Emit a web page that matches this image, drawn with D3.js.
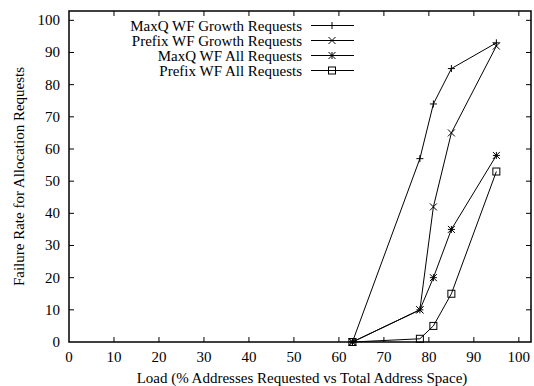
<!DOCTYPE html>
<html>
<head>
<meta charset="utf-8">
<script src="https://cdn.jsdelivr.net/npm/d3@7"></script>
<style>
  body { margin: 0; background: #fff; }
  svg { display: block; font-family: "Liberation Serif", "DejaVu Serif", serif; }
</style>
</head>
<body>
<div id="chart"></div>
<script>
// load points shared by every series
const loads = [63, 78, 81, 85, 95]

const maxqGrowth = [0, 57, 74, 85, 93]
const prefixGrowth = [0, 10, 42, 65, 92]
const maxqAll = [0, 10, 20, 35, 58]
const prefixAll = [0, 1, 5, 15, 53]

const seriesNames = ['MaxQ WF Growth Requests', 'Prefix WF Growth Requests', 'MaxQ WF All Requests', 'Prefix WF All Requests']
const seriesValues = [maxqGrowth, prefixGrowth, maxqAll, prefixAll]
const markers = ['plus', 'cross', 'star', 'square']

const xTicks = [0, 10, 20, 30, 40, 50, 60, 70, 80, 90, 100]
const yTicks = [0, 10, 20, 30, 40, 50, 60, 70, 80, 90, 100]

const width = 534
const height = 386
const margin = { top: 11, right: 3, bottom: 44, left: 69 }

const svg = d3.select('#chart').append('svg').attr('width', width).attr('height', height)

const x = d3.scaleLinear().domain([0, 102.7]).range([margin.left, width - margin.right])
const y = d3.scaleLinear().domain([0, 102.9]).range([height - margin.bottom, margin.top])

const x0 = x.range()[0], x1 = x.range()[1]
const y0 = y.range()[0], y1 = y.range()[1]
const tickLen = 5

// ticks (inward, mirrored on top and right)
const ticks = svg.append('g').attr('stroke', '#000').attr('stroke-width', 1)
xTicks.slice(1).forEach((t) => {
  ticks.append('line').attr('x1', x(t)).attr('x2', x(t)).attr('y1', y0).attr('y2', y0 - tickLen)
  ticks.append('line').attr('x1', x(t)).attr('x2', x(t)).attr('y1', y1).attr('y2', y1 + tickLen)
})
yTicks.slice(1).forEach((t) => {
  ticks.append('line').attr('y1', y(t)).attr('y2', y(t)).attr('x1', x0).attr('x2', x0 + tickLen)
  ticks.append('line').attr('y1', y(t)).attr('y2', y(t)).attr('x1', x1).attr('x2', x1 - tickLen)
})

svg.append('rect')
  .attr('x', x0).attr('y', y1)
  .attr('width', x1 - x0).attr('height', y0 - y1)
  .attr('fill', 'none').attr('stroke', '#000').attr('stroke-width', 1.5)

// tick labels
svg.append('g').attr('font-size', 15).attr('text-anchor', 'middle')
  .selectAll('text').data(xTicks).join('text')
  .attr('x', (d) => x(d)).attr('y', y0 + 19.5)
  .text((d) => d)

svg.append('g').attr('font-size', 15).attr('text-anchor', 'end')
  .selectAll('text').data(yTicks).join('text')
  .attr('x', x0 - 9).attr('y', (d) => y(d) + 5)
  .text((d) => d)

svg.append('text').attr('font-size', 15).attr('text-anchor', 'middle')
  .attr('x', (x0 + x1) / 2 + 2).attr('y', 383)
  .text('Load (% Addresses Requested vs Total Address Space)')

svg.append('text').attr('font-size', 15).attr('text-anchor', 'middle')
  .attr('transform', `translate(23.5,${(y0 + y1) / 2}) rotate(-90)`)
  .text('Failure Rate for Allocation Requests')

function drawMarker(g, type, cx, cy) {
  const s = 3.5
  const p = g.append('g').attr('stroke', '#000').attr('stroke-width', 1).attr('fill', 'none')
  if (type === 'plus' || type === 'star') {
    p.append('line').attr('x1', cx - s).attr('x2', cx + s).attr('y1', cy).attr('y2', cy)
    p.append('line').attr('x1', cx).attr('x2', cx).attr('y1', cy - s).attr('y2', cy + s)
  }
  if (type === 'cross' || type === 'star') {
    p.append('line').attr('x1', cx - s).attr('x2', cx + s).attr('y1', cy - s).attr('y2', cy + s)
    p.append('line').attr('x1', cx - s).attr('x2', cx + s).attr('y1', cy + s).attr('y2', cy - s)
  }
  if (type === 'square') {
    p.append('rect').attr('x', cx - s).attr('y', cy - s).attr('width', 2 * s).attr('height', 2 * s)
  }
}

const line = d3.line().x((d) => x(d[0])).y((d) => y(d[1]))
const plot = svg.append('g')

seriesValues.forEach((vals, i) => {
  const pts = loads.map((l, j) => [l, vals[j]])
  plot.append('path').attr('d', line(pts)).attr('fill', 'none').attr('stroke', '#000').attr('stroke-width', 1)
  pts.forEach((p) => drawMarker(plot, markers[i], x(p[0]), y(p[1])))
})

// legend
const legend = svg.append('g').attr('font-size', 15)
seriesNames.forEach((name, i) => {
  const ly = 25.5 + i * 15
  legend.append('text').attr('x', 302).attr('y', ly + 5).attr('text-anchor', 'end').text(name)
  legend.append('line').attr('x1', 311).attr('x2', 354).attr('y1', ly).attr('y2', ly)
    .attr('stroke', '#000').attr('stroke-width', 1)
  drawMarker(legend, markers[i], 332, ly)
})
</script>
</body>
</html>
